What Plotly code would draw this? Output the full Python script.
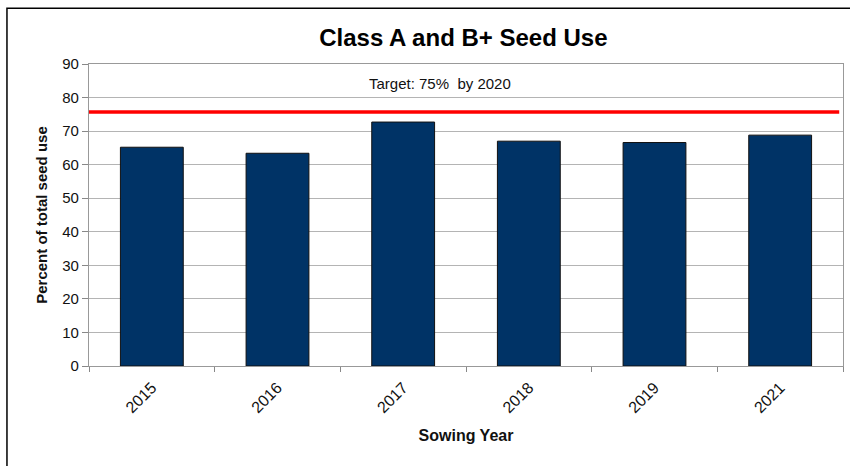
import plotly.graph_objects as go

years = ["2015", "2016", "2017", "2018", "2019", "2021"]
seed_use = [65.2, 63.4, 72.7, 67.0, 66.6, 68.8]
target_value = 75.7
target_label = "Target: 75%  by 2020"
y_ticks = [0, 10, 20, 30, 40, 50, 60, 70, 80, 90]

FONT = "Liberation Sans, Arial, sans-serif"
GRID = "#b4b4b4"

fig = go.Figure()
fig.add_trace(go.Bar(
    x=years, y=seed_use,
    marker=dict(color="#003366", line=dict(color="#111111", width=1)),
    showlegend=False, hoverinfo="x+y",
))

fig.add_shape(type="line", xref="paper", yref="y", x0=0, x1=0.995,
              y0=target_value, y1=target_value,
              line=dict(color="#ff0000", width=3.5), layer="above")

fig.add_annotation(text=target_label.replace("  ", "&nbsp; "), xref="paper", yref="y",
                   x=0.466, y=84.2, showarrow=False,
                   font=dict(family=FONT, size=15, color="#111111"))

# outer chart border (left and top visible)
fig.add_shape(type="rect", xref="paper", yref="paper",
              x0=-0.1088, x1=1.5, y0=-0.6, y1=1.185,
              line=dict(color="#000000", width=1.5), layer="below")

fig.update_layout(
    width=850, height=466,
    margin=dict(l=89, r=7, t=64, b=100),
    paper_bgcolor="white", plot_bgcolor="white",
    bargap=0.5,
    font=dict(family=FONT, color="#111111"),
    title=dict(text="<b>Class A and B+ Seed Use</b>", x=0.4965, xref="paper",
               y=1 - 38 / 466, yanchor="middle", xanchor="center",
               font=dict(family=FONT, size=24, color="#000000")),
    xaxis=dict(
        type="category", tickangle=-45, ticks="outside", tickson="boundaries",
        ticklen=5, tickcolor="#888888", showline=True, linecolor="#999999",
        linewidth=1.2, mirror=True, showgrid=False, ticklabelstandoff=5,
        tickfont=dict(family=FONT, size=16, color="#111111"),
        title=dict(text="<b>Sowing Year</b>", standoff=14,
                   font=dict(family=FONT, size=16, color="#111111")),
    ),
    yaxis=dict(
        range=[0, 90], tickvals=y_ticks, ticks="outside", ticklen=6,
        tickcolor="#888888", showline=True, linecolor="#999999", linewidth=1.2,
        mirror=True, showgrid=True, gridcolor=GRID, gridwidth=1.2,
        zeroline=False,
        tickfont=dict(family=FONT, size=15, color="#111111"),
        title=dict(text="<b>Percent of total seed use</b>", standoff=10,
                   font=dict(family=FONT, size=15, color="#111111")),
    ),
)

fig.write_html("out.html", config={"displayModeBar": False},
               post_script="document.body.style.margin='0';")
